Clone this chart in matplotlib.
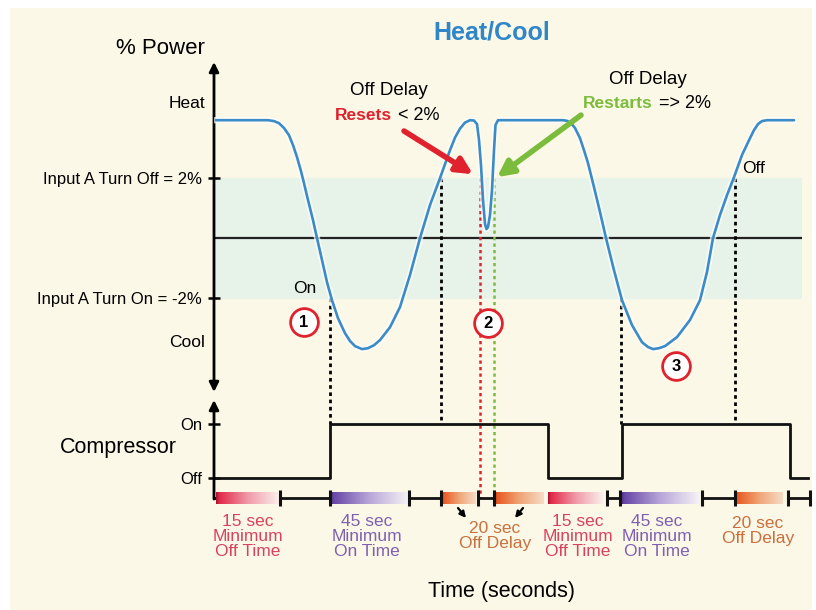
import matplotlib.pyplot as plt
import numpy as np
from matplotlib.colors import LinearSegmentedColormap
from matplotlib.patches import Rectangle

plt.rcParams['font.family'] = ['Liberation Sans', 'DejaVu Sans']

# power curve: t (time units), p (% power)
curve_t = [2, 54, 60, 65, 70, 75, 79, 83, 87, 90, 94, 99, 103, 108, 113, 118, 124, 131, 136, 141, 148,
           154, 160, 166, 176, 186, 196, 206, 216, 226, 236, 241, 246, 251, 256, 260, 263,
           265, 267, 269, 271, 272.5, 274, 276, 278, 280, 281.5, 284,
           349, 353, 357, 361, 366, 370, 374, 380, 386, 392, 400, 408, 418, 428, 434, 439,
           445, 451, 463, 476, 486, 493, 499, 506, 513, 520, 528, 536, 540, 544, 548, 553, 580]
curve_p = [3.93, 3.93, 3.90, 3.83, 3.67, 3.43, 3.10, 2.70, 2.23, 1.83, 1.27, 0.60, 0.0, -0.73, -1.47, -2.07,
           -2.67, -3.17, -3.43, -3.60, -3.70,
           -3.67, -3.57, -3.40, -2.97, -2.30, -1.23, 0.0, 1.10, 2.0, 2.93, 3.35, 3.65, 3.85, 3.93, 3.92, 3.80,
           3.27, 2.43, 1.27, 0.47, 0.30, 0.37, 0.77, 1.60, 2.93, 3.77, 3.93,
           3.93, 3.91, 3.83, 3.67, 3.33, 2.93, 2.50, 1.70, 0.87, 0.0, -1.07, -2.07, -2.90, -3.47, -3.63, -3.70,
           -3.67, -3.60, -3.30, -2.73, -2.07, -1.13, 0.0, 0.77, 1.43, 2.03, 2.77, 3.33, 3.60, 3.80, 3.90, 3.93, 3.93]

turn_off = 2.0
turn_on = -2.0

# compressor state (0 = off, 1 = on)
comp_t = [0, 116, 334, 408, 576, 594]
comp_state = [0, 1, 0, 1, 0, 0]

# threshold crossings that switch the compressor
cross_t = [116, 227, 407, 521]
cross_p = [turn_on, turn_off, turn_on, turn_off]
reset_t = 266
restart_t = 280

# timer bars on the time line
bar_kind = ['off', 'on', 'delay', 'delay', 'off', 'on', 'delay']
bar_start = [2, 116, 228, 281, 334, 407, 521]
bar_end = [66, 195, 262, 330, 390, 486, 569]
gap_start = [66, 195, 264, 393, 488, 574]
gap_end = [116, 227, 280, 406, 521, 596]

label_kind = ['off', 'on', 'delay', 'off', 'on', 'delay']
label_t = [34, 153, 281, 364, 443, 544]
label_y = [-1.08, -1.08, -1.08, -1.08, -1.08, -0.99]

cream = '#fbf8e7'
band = '#e7f2e9'
blue = '#3a8bc6'
red = '#e0222e'
green = '#7cbc3c'
bar_cmaps = {
    'off': LinearSegmentedColormap.from_list('off', [(0, '#a8102c'), (0.05, '#e22a4a'), (0.5, '#f09aa8'), (1, '#fbf2ee')]),
    'on': LinearSegmentedColormap.from_list('on', [(0, '#4e2e8a'), (0.05, '#6a48a8'), (0.5, '#b8a6d8'), (1, '#f7f3f6')]),
    'delay': LinearSegmentedColormap.from_list('delay', [(0, '#c43c10'), (0.05, '#e85a22'), (0.5, '#f0a474'), (1, '#f6dcc6')]),
}
label_color = {'off': '#d8425e', 'on': '#7e60b0', 'delay': '#c8703e'}
label_text = {'off': '15 sec\nMinimum\nOff Time', 'on': '45 sec\nMinimum\nOn Time',
              'delay': '20 sec\nOff Delay'}

W, H = 816, 610
fig = plt.figure(figsize=(W / 100, H / 100), dpi=100, facecolor='white')
fig.patches.append(Rectangle((10 / W, 0), 802 / W, 602 / H, transform=fig.transFigure,
                             facecolor=cream, edgecolor='none', zorder=-10))

# power panel
ax_p = fig.add_axes([214 / W, 1 - 392 / H, 588 / W, 330 / H])
ax_p.set_facecolor('none')
ax_p.set_xlim(0, 588)
ax_p.set_ylim(-5.13, 5.87)
for s in ax_p.spines.values():
    s.set_visible(False)
ax_p.set_xticks([])
ax_p.set_yticks([turn_off, turn_on], ['Input A Turn Off = 2%', 'Input A Turn On = -2%'])
ax_p.tick_params(axis='y', direction='inout', length=9, width=1.8, pad=4, labelsize=12)

# compressor panel
ax_c = fig.add_axes([214 / W, 0, 588 / W, 212 / H])
ax_c.set_facecolor('none')
ax_c.set_xlim(0, 588)
ax_c.set_ylim(-2.444, 1.481)
for s in ax_c.spines.values():
    s.set_visible(False)
ax_c.set_xticks([])
ax_c.set_yticks([0, 1], ['Off', 'On'])
ax_c.tick_params(axis='y', direction='inout', length=9, width=1.8, pad=4, labelsize=12)
line_y = -0.37

ax_p.axhspan(turn_on, turn_off, color=band, zorder=0)
ax_p.axhline(0, color='#222222', lw=1.6, zorder=1)
ax_p.annotate('', xy=(0, 1), xytext=(0, 0), xycoords='axes fraction',
              arrowprops=dict(arrowstyle='<|-|>', lw=2, color='black', mutation_scale=14,
                              shrinkA=0, shrinkB=0), annotation_clip=False)


def compressor_level(t, level):
    # y position in the power panel of a point given in compressor units
    disp = ax_c.transData.transform((t, level))
    return ax_p.transData.inverted().transform(disp)[1]


# dotted links from the thresholds down to the compressor
for ct, cp in zip(cross_t, cross_p):
    ax_p.plot([ct, ct], [cp, compressor_level(ct, 1)], color='black', lw=2,
              linestyle=(0, (1.3, 1.3)), clip_on=False, zorder=2)
for ct, col in [(reset_t, red), (restart_t, green)]:
    ax_p.plot([ct, ct], [turn_off, compressor_level(ct, line_y)], color=col, lw=1.8,
              linestyle=(0, (1.3, 1.3)), clip_on=False, zorder=2)

ax_p.plot(curve_t, curve_p, color='white', lw=4.5, alpha=0.7, zorder=3, solid_joinstyle='round')
ax_p.plot(curve_t, curve_p, color=blue, lw=1.9, zorder=4, solid_joinstyle='round',
          solid_capstyle='round')

ax_p.text(-9, 4.5, 'Heat', ha='right', va='center', fontsize=12.5)
ax_p.text(-9, -3.47, 'Cool', ha='right', va='center', fontsize=12.5)
ax_p.text(91, -1.67, 'On', ha='center', va='center', fontsize=12.5)
ax_p.text(528, 2.33, 'Off', ha='left', va='center', fontsize=12.5)

for num, (nt, npow) in enumerate([(90, -2.8), (274, -2.83), (462, -4.27)], start=1):
    ax_p.plot(nt, npow, 'o', ms=20, mfc='white', mec=red, mew=2, zorder=5)
    ax_p.text(nt, npow, str(num), ha='center', va='center', fontsize=12, fontweight='bold', zorder=6)

ax_p.text(175, 4.93, 'Off Delay', ha='center', va='center', fontsize=13.5)
ax_p.text(178, 4.1, 'Resets', ha='right', va='center', fontsize=12.5, fontweight='bold', color=red)
ax_p.text(184, 4.1, '< 2%', ha='left', va='center', fontsize=13)
ax_p.text(434, 5.27, 'Off Delay', ha='center', va='center', fontsize=13.5)
ax_p.text(439, 4.5, 'Restarts', ha='right', va='center', fontsize=12.5, fontweight='bold', color=green)
ax_p.text(445, 4.5, '=> 2%', ha='left', va='center', fontsize=13)

ax_p.annotate('', xy=(259, 2.13), xytext=(190, 3.57),
              arrowprops=dict(arrowstyle='-|>', lw=4, color=red, mutation_scale=24,
                              shrinkA=0, shrinkB=0), zorder=6)
ax_p.annotate('', xy=(283, 2.03), xytext=(367, 4.1),
              arrowprops=dict(arrowstyle='-|>', lw=4, color=green, mutation_scale=24,
                              shrinkA=0, shrinkB=0), zorder=6)

ax_c.annotate('', xy=(0, 1.444), xytext=(0, line_y - 0.02),
              arrowprops=dict(arrowstyle='-|>', lw=2, color='black', mutation_scale=14,
                              shrinkA=0, shrinkB=0), annotation_clip=False)
ax_c.plot([0, 4], [line_y, line_y], color='black', lw=2, clip_on=False)
ax_c.plot(comp_t, comp_state, drawstyle='steps-post', color='#111111', lw=2, clip_on=False)

grad = np.linspace(0, 1, 256).reshape(1, -1)
for kind, t0, t1 in zip(bar_kind, bar_start, bar_end):
    ax_c.imshow(grad, cmap=bar_cmaps[kind], extent=[t0, t1, line_y - 0.105, line_y + 0.105],
                aspect='auto', interpolation='bilinear', zorder=3, clip_on=False)
for t0, t1 in zip(gap_start, gap_end):
    ax_c.plot([t0, t1], [line_y, line_y], color='#111111', lw=2, marker='|', ms=11, mew=2.2,
              clip_on=False, zorder=4)

for kind, lt, ly in zip(label_kind, label_t, label_y):
    ax_c.text(lt, ly, label_text[kind], ha='center', va='center', fontsize=12.5,
              color=label_color[kind], linespacing=1.0)

ax_c.annotate('', xy=(252, -0.74), xytext=(244, -0.556),
              arrowprops=dict(arrowstyle='-|>', lw=1.6, color='black', mutation_scale=9,
                              shrinkA=0, shrinkB=0))
ax_c.annotate('', xy=(301, -0.74), xytext=(309, -0.556),
              arrowprops=dict(arrowstyle='-|>', lw=1.6, color='black', mutation_scale=9,
                              shrinkA=0, shrinkB=0))

# imshow resets the limits
ax_c.set_xlim(0, 588)
ax_c.set_ylim(-2.444, 1.481)

fig.text(492 / W, 1 - 32 / H, 'Heat/Cool', ha='center', va='center', fontsize=18,
         fontweight='bold', color='#2f86c8')
fig.text(160 / W, 1 - 48 / H, '% Power', ha='center', va='center', fontsize=16)
fig.text(118 / W, 1 - 447 / H, 'Compressor', ha='center', va='center', fontsize=15.5)
fig.text(502 / W, 1 - 591 / H, 'Time (seconds)', ha='center', va='center', fontsize=15.5)

fig.savefig('out.png', dpi=100, facecolor='white')
